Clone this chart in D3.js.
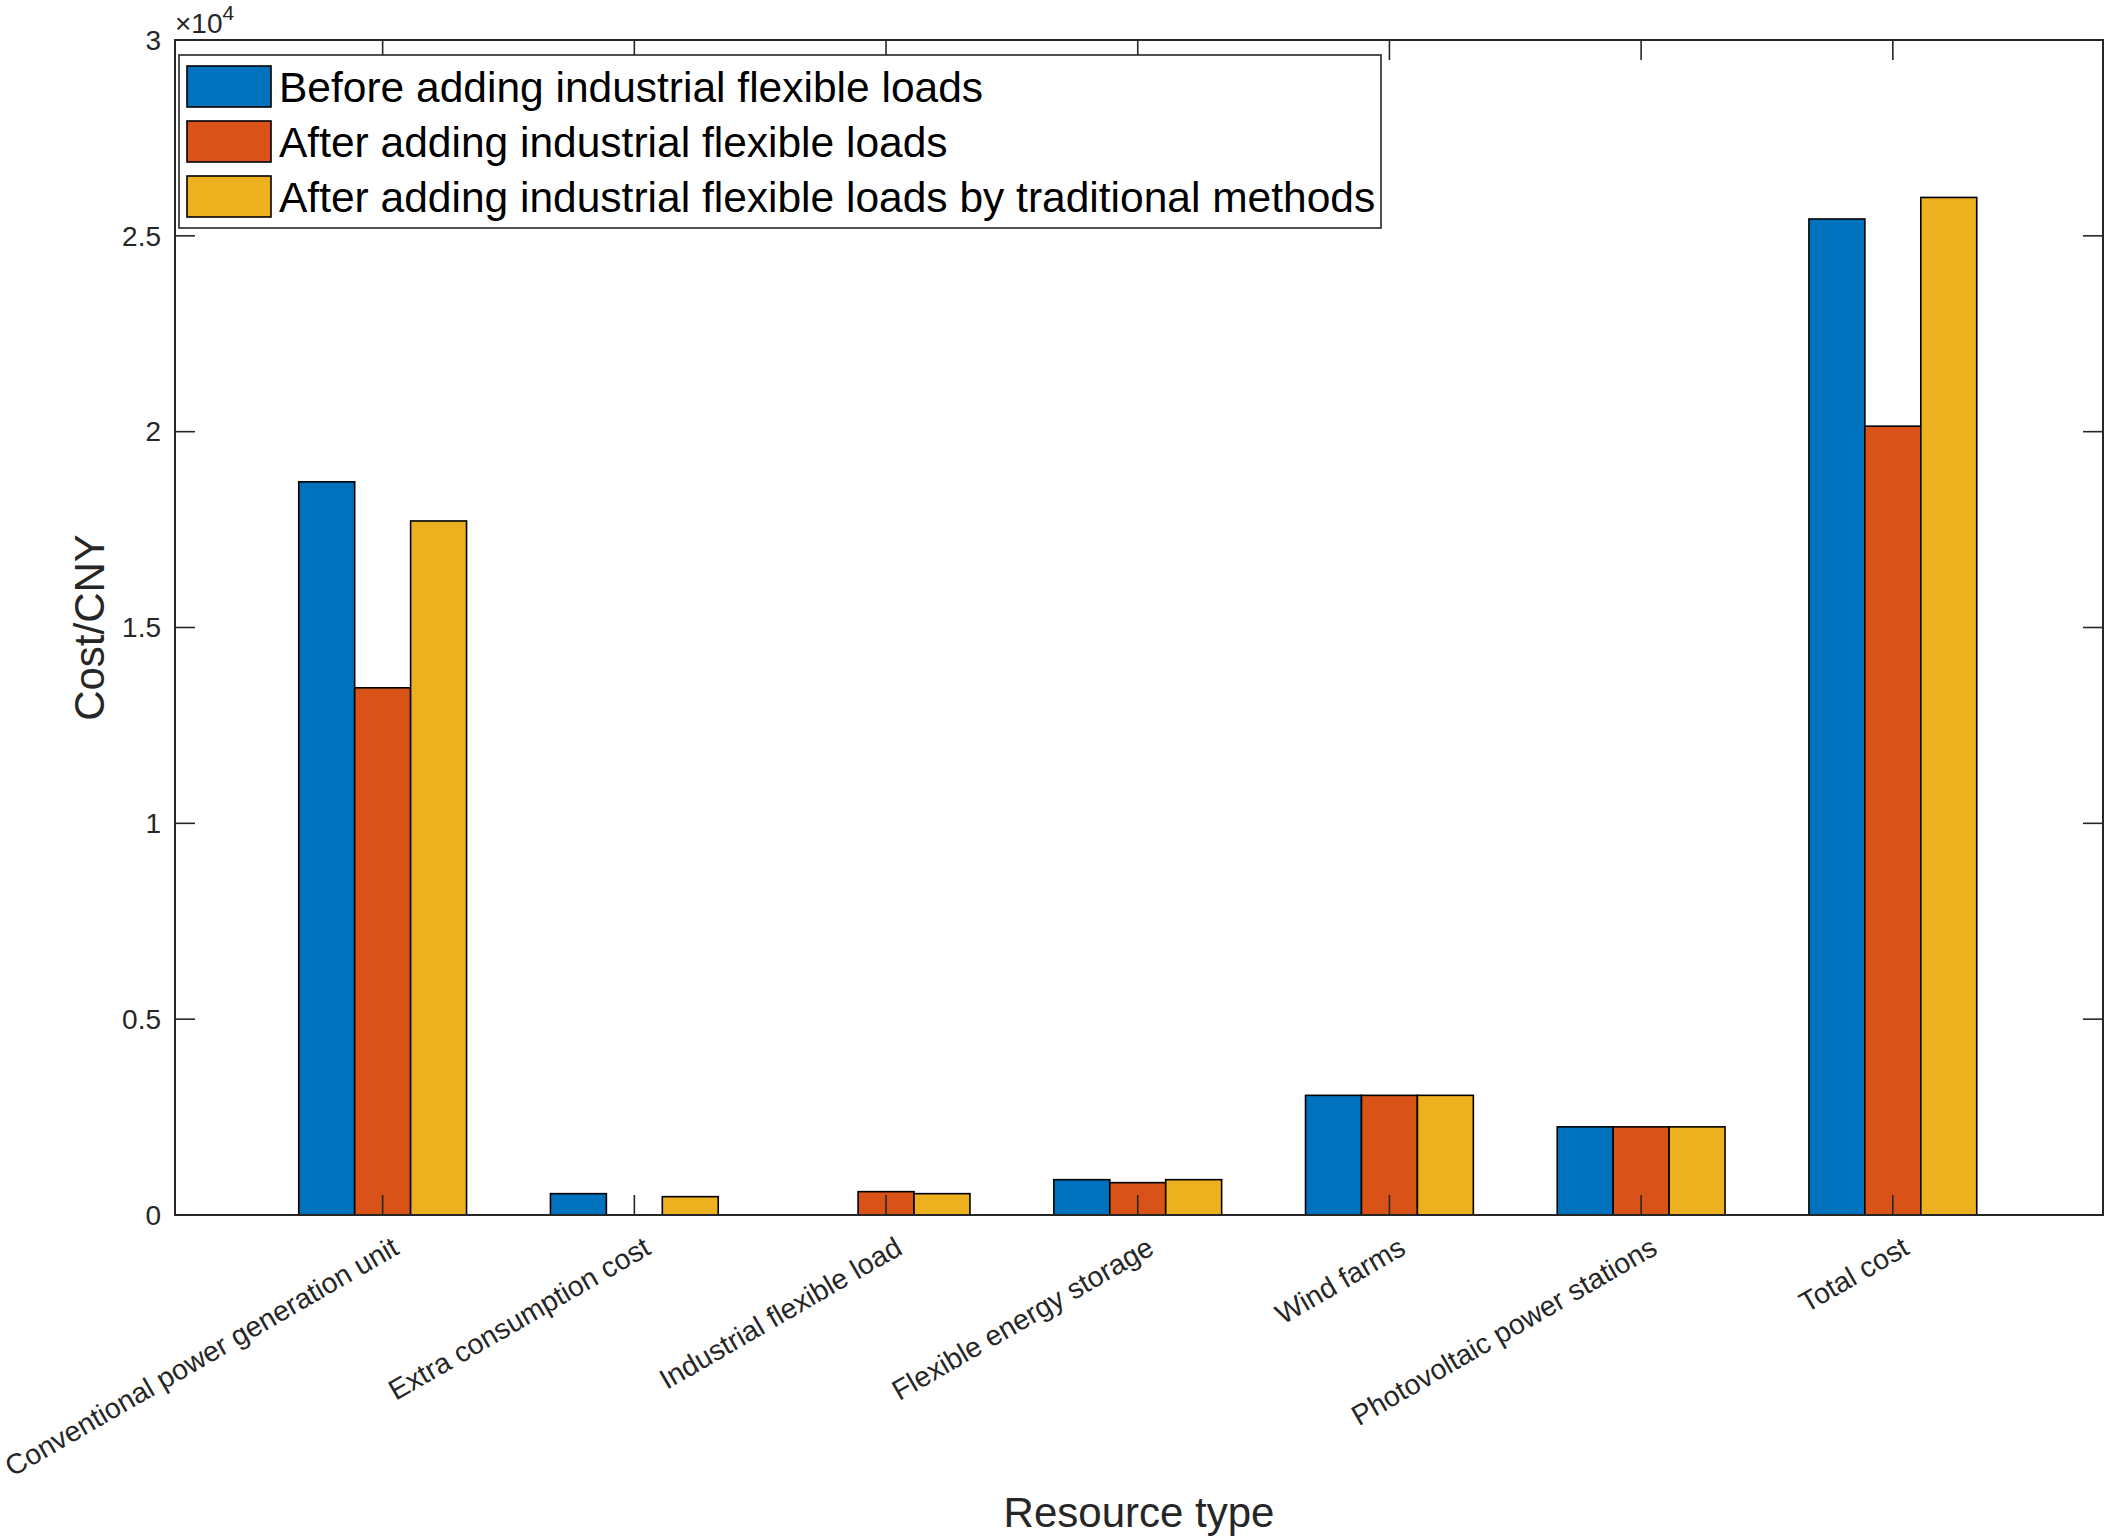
<!DOCTYPE html>
<html>
<head>
<meta charset="utf-8">
<script src="https://cdn.jsdelivr.net/npm/d3@7"></script>
<style>
  body { margin: 0; background: #fff; }
  text { font-family: "Liberation Sans", Arial, sans-serif; fill: #262626; }
</style>
</head>
<body>
<svg id="svg" width="2107" height="1540"></svg>
<script>
// data (CNY)
var categories = ["Conventional power generation unit", "Extra consumption cost", "Industrial flexible load",
  "Flexible energy storage", "Wind farms", "Photovoltaic power stations", "Total cost"];
var seriesNames = ["Before adding industrial flexible loads", "After adding industrial flexible loads",
  "After adding industrial flexible loads by traditional methods"];
var before      = [18720, 545, 0,   902, 3055, 2250, 25430];
var after       = [13460, 0,   596, 826, 3055, 2250, 20140];
var traditional = [17720, 468, 545, 902, 3055, 2250, 25980];
var yTicks = [0, 5000, 10000, 15000, 20000, 25000, 30000];
var colors = ["#0072BD", "#D95319", "#EDB120"];

var seriesValues = [before, after, traditional];

var plot = function() {
  var svg = d3.select("#svg");
  svg.append("rect").attr("width", 2107).attr("height", 1540).attr("fill", "#fff");

  var left = 175, right = 2103, axTop = 40, bottom = 1215;
  var axisColor = "#262626";

  var x = d3.scaleLinear().domain([0.175, 7.835]).range([left, right]);
  var y = d3.scaleLinear().domain([0, 30000]).range([bottom, axTop]);
  var step = x(2) - x(1);
  var x1 = d3.scaleBand().domain(d3.range(seriesNames.length)).range([-step / 3, step / 3]);

  //////// BARS ////////
  var groups = svg.selectAll("g.grp").data(categories).enter()
    .append("g").attr("class", "grp")
    .attr("transform", function(d, i) { return "translate(" + x(i + 1) + ",0)"; });

  groups.selectAll("rect").data(function(d, i) {
      return seriesValues.map(function(s, k) { return {k: k, v: s[i]}; });
    }).enter()
    .append("rect")
    .attr("x", function(d) { return x1(d.k); })
    .attr("width", x1.bandwidth())
    .attr("y", function(d) { return y(d.v); })
    .attr("height", function(d) { return y(0) - y(d.v); })
    .attr("fill", function(d) { return colors[d.k]; })
    .attr("stroke", "#000")
    .attr("stroke-width", 1.6);

  //////// AXES BOX + TICKS ////////
  var tl = 20;
  svg.append("rect").attr("x", left).attr("y", axTop).attr("width", right - left).attr("height", bottom - axTop)
    .attr("fill", "none").attr("stroke", axisColor).attr("stroke-width", 2);

  yTicks.forEach(function(t) {
    svg.append("line").attr("x1", left).attr("x2", left + tl).attr("y1", y(t)).attr("y2", y(t))
      .attr("stroke", axisColor).attr("stroke-width", 1.6);
    svg.append("line").attr("x1", right - tl).attr("x2", right).attr("y1", y(t)).attr("y2", y(t))
      .attr("stroke", axisColor).attr("stroke-width", 1.6);
    svg.append("text").attr("x", left - 14).attr("y", y(t)).attr("dy", "0.35em")
      .attr("text-anchor", "end").attr("font-size", 28)
      .text(d3.format("~g")(t / 1e4));
  });

  categories.forEach(function(c, i) {
    var cx = x(i + 1);
    svg.append("line").attr("x1", cx).attr("x2", cx).attr("y1", bottom).attr("y2", bottom - tl)
      .attr("stroke", axisColor).attr("stroke-width", 1.6);
    svg.append("line").attr("x1", cx).attr("x2", cx).attr("y1", axTop).attr("y2", axTop + tl)
      .attr("stroke", axisColor).attr("stroke-width", 1.6);
    svg.append("text")
      .attr("transform", "translate(" + (cx + 18) + "," + (bottom + 38) + ") rotate(-30)")
      .attr("text-anchor", "end").attr("font-size", 28.5)
      .text(c);
  });

  // exponent label
  var ex = svg.append("text").attr("x", left).attr("y", 33).attr("font-size", 28);
  ex.append("tspan").text("\u00d710");
  ex.append("tspan").attr("dy", -13).attr("font-size", 21).text("4");

  ///////// AXIS LABELS ////////
  svg.append("text").attr("transform", "translate(104," + ((axTop + bottom) / 2) + ") rotate(-90)")
    .attr("text-anchor", "middle").attr("font-size", 42).text("Cost/CNY");
  svg.append("text").attr("x", (left + right) / 2).attr("y", 1527)
    .attr("text-anchor", "middle").attr("font-size", 42).text("Resource type");

  ///////// LEGEND ////////
  var lg = svg.append("g");
  lg.append("rect").attr("x", 179).attr("y", 55).attr("width", 1202).attr("height", 173)
    .attr("fill", "#fff").attr("stroke", axisColor).attr("stroke-width", 1.6);
  seriesNames.forEach(function(s, k) {
    var yy = 66 + k * 55;
    lg.append("rect").attr("x", 187).attr("y", yy).attr("width", 84).attr("height", 41)
      .attr("fill", colors[k]).attr("stroke", "#000").attr("stroke-width", 1.6);
    lg.append("text").attr("x", 279).attr("y", yy + 36).attr("font-size", 42.5)
      .style("fill", "#000").text(s);
  });
};

plot();
</script>
</body>
</html>
